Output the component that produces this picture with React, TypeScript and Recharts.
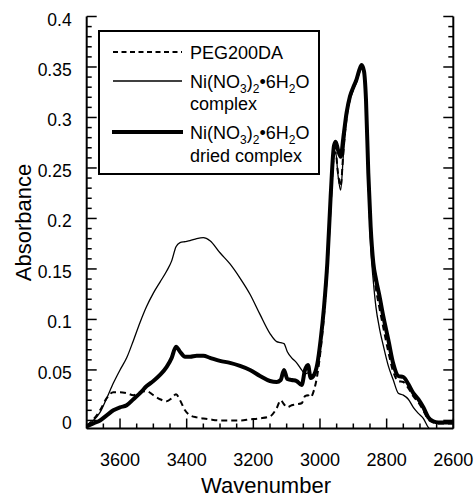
import React from 'react';
import { LineChart, Line, XAxis, YAxis, Legend, Label } from 'recharts';

// wavenumber grid (cm-1), read right-to-left on the plot
const wavenumber = [
  3700, 3680, 3660, 3640, 3620, 3600, 3580, 3560, 3540, 3520, 3500, 3480, 3460,
  3445, 3432, 3420, 3405, 3390, 3370, 3350, 3330,
  3300, 3270, 3240, 3210, 3180, 3150, 3130,
  3118, 3108, 3098, 3085, 3070, 3055, 3045, 3036, 3028, 3018, 3008,
  2998, 2988, 2978, 2968, 2958, 2953, 2946, 2938, 2930, 2920, 2910, 2900, 2890,
  2882, 2875, 2868, 2862, 2855, 2848, 2840, 2832, 2822, 2810,
  2795, 2780, 2765, 2750, 2735, 2720, 2705, 2690, 2675, 2660,
  2645, 2630, 2615, 2600,
];

const peg200da = [
  -0.005, 0.001, 0.01, 0.022, 0.028, 0.028, 0.027, 0.025, 0.028, 0.029, 0.025, 0.021, 0.019,
  0.022, 0.026, 0.02, 0.01, 0.005, 0.003, 0.002, 0.001,
  0.0, 0.0, 0.0, 0.001, 0.002, 0.004, 0.012,
  0.02, 0.016, 0.013, 0.015, 0.016, 0.017, 0.024, 0.025, 0.023, 0.03, 0.045,
  0.07, 0.104, 0.15, 0.212, 0.262, 0.265, 0.245, 0.232, 0.265, 0.3, 0.318, 0.328, 0.336,
  0.345, 0.35, 0.344, 0.316, 0.24, 0.184, 0.15, 0.13, 0.112, 0.092,
  0.068, 0.048, 0.039, 0.038, 0.032, 0.024, 0.018, 0.01, 0.001, -0.002,
  -0.003, -0.003, -0.003, -0.003,
];

const complexValues = [
  -0.005, 0.0, 0.008, 0.022, 0.037, 0.05, 0.062, 0.079, 0.097, 0.113, 0.126, 0.137, 0.148,
  0.158, 0.172, 0.176, 0.177, 0.178, 0.18, 0.181, 0.178,
  0.166, 0.155, 0.141, 0.125, 0.105, 0.086, 0.078,
  0.077, 0.076, 0.068, 0.062, 0.057, 0.05, 0.046, 0.047, 0.045, 0.046, 0.053,
  0.074, 0.106, 0.15, 0.215, 0.263, 0.266, 0.243, 0.228, 0.262, 0.3, 0.318, 0.328, 0.336,
  0.345, 0.35, 0.344, 0.314, 0.235, 0.172, 0.138, 0.112, 0.092, 0.074,
  0.054, 0.04, 0.027, 0.025, 0.021, 0.013, 0.007, 0.002, -0.007, -0.012,
  -0.015, -0.015, -0.015, -0.015,
];

const driedValues = [
  -0.006, -0.003, 0.0, 0.005, 0.01, 0.013, 0.015, 0.021, 0.027, 0.034, 0.039, 0.045, 0.053,
  0.062, 0.073, 0.068, 0.063, 0.063, 0.064, 0.064, 0.062,
  0.059, 0.057, 0.054, 0.05, 0.044, 0.039, 0.038,
  0.04, 0.05, 0.041, 0.04, 0.039, 0.035, 0.05, 0.055, 0.042, 0.045, 0.056,
  0.08, 0.112, 0.156, 0.222, 0.272, 0.276, 0.268, 0.261, 0.28, 0.305, 0.321, 0.33, 0.338,
  0.347, 0.352, 0.346, 0.318, 0.245, 0.192, 0.156, 0.14, 0.124, 0.103,
  0.08, 0.056, 0.044, 0.043, 0.036, 0.027, 0.021, 0.013, 0.003, -0.001,
  -0.002, -0.002, -0.002, -0.002,
];

const xLabels = [3600, 3400, 3200, 3000, 2800, 2600];
const yLabels = [0, 0.05, 0.1, 0.15, 0.2, 0.25, 0.3, 0.35, 0.4];

// minor ticks every 50 cm-1 and every 0.01
const xTicks = Array.from({ length: 23 }, (_, i) => 2600 + i * 50);
const yTicks = Array.from({ length: 41 }, (_, i) => i / 100);

const data = wavenumber.map((w, i) => ({
  w,
  peg: peg200da[i],
  complex: complexValues[i],
  dried: driedValues[i],
}));

const FONT = '"Liberation Sans", Arial, Helvetica, sans-serif';

const isXMajor = (v: number) => xLabels.includes(v);
const isYMajor = (v: number) => yLabels.some((l) => Math.abs(l - v) < 1e-9);

const BottomTick = (props: any) => {
  const { x, y, payload } = props;
  const major = isXMajor(payload.value);
  return (
    <g>
      <line x1={x} x2={x} y1={y} y2={y - (major ? 10 : 5)} stroke="#000" strokeWidth={1.5} />
      {major && (
        <text x={x} y={y + 37} textAnchor="middle" fontSize={18} fontFamily={FONT} fill="#000">
          {payload.value}
        </text>
      )}
    </g>
  );
};

const TopTick = (props: any) => {
  const { x, y, payload } = props;
  const major = isXMajor(payload.value);
  return <line x1={x} x2={x} y1={y} y2={y + (major ? 10 : 5)} stroke="#000" strokeWidth={1.5} />;
};

const LeftTick = (props: any) => {
  const { x, y, payload } = props;
  const major = isYMajor(payload.value);
  return (
    <g>
      <line x1={x} x2={x + (major ? 10 : 5)} y1={y} y2={y} stroke="#000" strokeWidth={1.5} />
      {major && (
        <text x={x - 15} y={y + 9} textAnchor="end" fontSize={17.5} fontFamily={FONT} fill="#000">
          {payload.value === 0 ? '0' : String(payload.value)}
        </text>
      )}
    </g>
  );
};

const RightTick = (props: any) => {
  const { x, y, payload } = props;
  const major = isYMajor(payload.value);
  return <line x1={x} x2={x - (major ? 10 : 5)} y1={y} y2={y} stroke="#000" strokeWidth={1.5} />;
};

const Formula = ({ x, y }: { x: number; y: number }) => (
  <text x={x} y={y} fontSize={18} fontFamily={FONT} fill="#000">
    Ni(NO<tspan fontSize={12} dy={5}>3</tspan>
    <tspan dy={-5}>)</tspan>
    <tspan fontSize={12} dy={5}>2</tspan>
    <tspan dy={-5}>•6H</tspan>
    <tspan fontSize={12} dy={5}>2</tspan>
    <tspan dy={-5}>O</tspan>
  </text>
);

const LegendBox = () => (
  <svg width={222} height={145}>
    <rect x={1} y={1} width={220} height={143} fill="#fff" stroke="#000" strokeWidth={2} />
    <line x1={15} x2={84} y1={22} y2={22} stroke="#000" strokeWidth={2} strokeDasharray="5 3.5" />
    <text x={92} y={28.5} fontSize={18} fontFamily={FONT} fill="#000">PEG200DA</text>

    <line x1={15} x2={84} y1={51} y2={51} stroke="#000" strokeWidth={1.3} />
    <Formula x={92} y={57.5} />
    <text x={92} y={80} fontSize={18} fontFamily={FONT} fill="#000">complex</text>

    <line x1={14} x2={85} y1={102} y2={102} stroke="#000" strokeWidth={4} />
    <Formula x={92} y={108.5} />
    <text x={92} y={131.5} fontSize={18} fontFamily={FONT} fill="#000">dried complex</text>
  </svg>
);

export default function App() {
  return (
    <div style={{ position: 'absolute', left: 0, top: 0, background: '#fff' }}>
      <LineChart width={475} height={498} data={data} margin={{ top: 16.5, right: 0, bottom: 0, left: 0 }}>
        <XAxis
          dataKey="w"
          type="number"
          domain={[2600, 3700]}
          reversed
          allowDataOverflow
          ticks={xTicks}
          interval={0}
          tick={<BottomTick />}
          tickLine={false}
          tickSize={0}
          tickMargin={0}
          height={69.5}
          axisLine={{ stroke: '#000', strokeWidth: 2 }}
        >
          <Label value="Wavenumber" position="insideBottom" offset={5.5} dx={-4} fontSize={22} fontFamily={FONT} fill="#000" />
        </XAxis>
        <XAxis
          xAxisId="top"
          orientation="top"
          type="number"
          domain={[2600, 3700]}
          reversed
          allowDataOverflow
          ticks={xTicks}
          interval={0}
          tick={<TopTick />}
          tickLine={false}
          tickSize={0}
          tickMargin={0}
          height={0}
          axisLine={{ stroke: '#000', strokeWidth: 2 }}
        />
        <YAxis
          type="number"
          domain={[-0.008, 0.4]}
          allowDataOverflow
          ticks={yTicks}
          interval={0}
          tick={<LeftTick />}
          tickLine={false}
          tickSize={0}
          tickMargin={0}
          width={86.7}
          axisLine={{ stroke: '#000', strokeWidth: 2 }}
        >
          <Label
            value="Absorbance"
            angle={-90}
            position="insideLeft"
            offset={23}
            fontSize={22}
            fontFamily={FONT}
            fill="#000"
            style={{ textAnchor: 'middle' }}
          />
        </YAxis>
        <YAxis
          yAxisId="right"
          orientation="right"
          type="number"
          domain={[-0.008, 0.4]}
          allowDataOverflow
          ticks={yTicks}
          interval={0}
          tick={<RightTick />}
          tickLine={false}
          tickSize={0}
          tickMargin={0}
          width={21.7}
          axisLine={{ stroke: '#000', strokeWidth: 2 }}
        />
        <Legend
          layout="vertical"
          align="center"
          verticalAlign="middle"
          content={<LegendBox />}
          wrapperStyle={{ position: 'absolute', left: 98, top: 30, width: 222, height: 145 }}
        />
        <Line type="monotone" dataKey="peg" name="PEG200DA" stroke="#000" strokeWidth={2} strokeDasharray="6 4" dot={false} isAnimationActive={false} />
        <Line type="monotone" dataKey="complex" name="complex" stroke="#000" strokeWidth={1.3} dot={false} isAnimationActive={false} />
        <Line type="monotone" dataKey="dried" name="dried complex" stroke="#000" strokeWidth={4} dot={false} isAnimationActive={false} />
      </LineChart>
    </div>
  );
}
